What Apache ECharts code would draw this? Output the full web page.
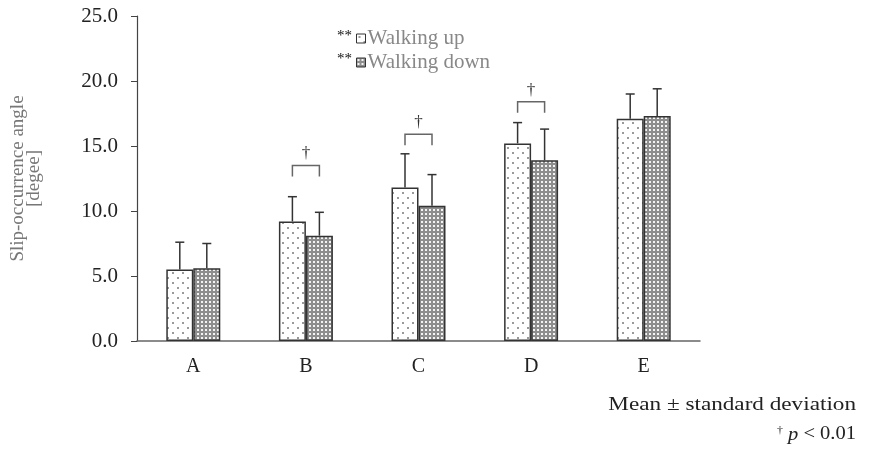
<!DOCTYPE html>
<html><head><meta charset="utf-8">
<script src="https://cdn.jsdelivr.net/npm/echarts@6/dist/echarts.min.js"></script>
<style>html,body{margin:0;padding:0;background:#fff}#c{width:873px;height:449px}</style>
</head><body><div id="c"></div>
<script>
const categories = ['A','B','C','D','E'];
const upMean = [5.5, 9.2, 11.8, 15.2, 17.1];
const upSD = [2.1, 1.9, 2.6, 1.6, 1.9];
const downMean = [5.6, 8.1, 10.4, 13.9, 17.3];
const downSD = [1.9, 1.8, 2.4, 2.4, 2.1];
const sigCats = [1, 2, 3];
const sigLevels = [13.5, 15.9, 18.4];
const seriesNames = ['Walking up', 'Walking down'];

const FONT = '"Liberation Serif","Times New Roman",serif';

function makeUpPattern(){
  const c = document.createElement('canvas'); c.width = 10; c.height = 10;
  const g = c.getContext('2d');
  g.fillStyle = '#fff'; g.fillRect(0,0,10,10);
  g.fillStyle = '#9a9a9a';
  g.fillRect(2,2,2,2); g.fillRect(7,7,2,2);
  return c;
}
function makeDownPattern(){
  const c = document.createElement('canvas'); c.width = 4; c.height = 4;
  const g = c.getContext('2d');
  g.fillStyle = '#8e8e8e'; g.fillRect(0,0,4,4);
  g.fillStyle = '#f4f4f4';
  g.fillRect(1,1,2,2);
  return c;
}
const upPat = {image: makeUpPattern(), repeat: 'repeat'};
const downPat = {image: makeDownPattern(), repeat: 'repeat'};

const BAR_W = 27;

function errRender(offsetSign){
  return function(params, api){
    const idx = api.value(0), m = api.value(1), sd = api.value(2);
    const p0 = api.coord([idx, m]);
    const p1 = api.coord([idx, m + sd]);
    const x = p0[0] + offsetSign * BAR_W / 2;
    return {type: 'group', children: [
      {type: 'line', shape: {x1: x, y1: p0[1], x2: x, y2: p1[1]}, style: {stroke: '#333', lineWidth: 1.5}},
      {type: 'line', shape: {x1: x - 4.5, y1: p1[1], x2: x + 4.5, y2: p1[1]}, style: {stroke: '#333', lineWidth: 1.5}}
    ]};
  };
}

const chart = echarts.init(document.getElementById('c'), null, {renderer: 'canvas'});
chart.setOption({
  animation: false,
  backgroundColor: '#fff',
  grid: {left: 137, right: 173, top: 16, bottom: 108, containLabel: false, outerBoundsMode: 'none'},
  legend: {
    orient: 'vertical', left: 356, top: 28, padding: 0,
    itemWidth: 9, itemHeight: 9, itemGap: 3,
    data: seriesNames,
    itemStyle: {borderColor: '#333', borderWidth: 1},
    textStyle: {fontFamily: FONT, fontSize: 21, lineHeight: 20, color: '#888', padding: [0,0,0,-3]},
    icon: 'rect'
  },
  xAxis: {
    type: 'category', data: categories,
    axisLine: {lineStyle: {color: '#666', width: 1.5}},
    axisTick: {show: false},
    axisLabel: {fontFamily: FONT, fontSize: 20, color: '#222', margin: 16}
  },
  yAxis: {
    type: 'value', min: 0, max: 25, interval: 5,
    name: 'Slip-occurrence angle\n[degee]',
    nameLocation: 'middle', nameGap: 95, nameRotate: 90,
    nameTextStyle: {fontFamily: FONT, fontSize: 19, color: '#777', lineHeight: 16},
    axisLine: {show: true, lineStyle: {color: '#444', width: 1.2}},
    axisTick: {show: true, length: 6, lineStyle: {color: '#444'}},
    splitLine: {show: false},
    axisLabel: {fontFamily: FONT, fontSize: 21, color: '#222', margin: 19, formatter: v => v.toFixed(1)}
  },
  graphic: [
    {type: 'text', left: 337, top: 29, style: {text: '**', fontFamily: FONT, fontSize: 15, fill: '#111'}},
    {type: 'text', left: 337, top: 52, style: {text: '**', fontFamily: FONT, fontSize: 15, fill: '#111'}},
    {type: 'text', x: 856, y: 415, scaleX: 1.22, style: {text: 'Mean ± standard deviation', textAlign: 'right', textVerticalAlign: 'bottom', fontFamily: FONT, fontSize: 19, fill: '#222'}},
    {type: 'text', x: 856, y: 444, scaleX: 1.08, style: {
      text: '{s|†} {i|p} < 0.01',
      textAlign: 'right', textVerticalAlign: 'bottom',
      rich: {
        s: {fontFamily: FONT, fontSize: 11, fill: '#222', verticalAlign: 'top', padding: [0,0,6,0]},
        i: {fontFamily: FONT, fontSize: 19, fontStyle: 'italic', fill: '#222'}
      },
      fontFamily: FONT, fontSize: 19, fill: '#222'}}
  ],
  series: [
    {name: seriesNames[0], type: 'bar', data: upMean, barWidth: BAR_W, barGap: '0%',
     itemStyle: {color: upPat, borderColor: '#333', borderWidth: 1.5}},
    {name: seriesNames[1], type: 'bar', data: downMean, barWidth: BAR_W,
     itemStyle: {color: downPat, borderColor: '#333', borderWidth: 1.5}},
    {type: 'custom', name: 'errUp', silent: true, z: 5,
     data: upMean.map((m, i) => [i, m, upSD[i]]), renderItem: errRender(-1)},
    {type: 'custom', name: 'errDown', silent: true, z: 5,
     data: downMean.map((m, i) => [i, m, downSD[i]]), renderItem: errRender(1)},
    {type: 'custom', name: 'sig', silent: true, z: 5,
     data: sigCats.map((c, i) => [c, sigLevels[i]]),
     renderItem: function(params, api){
       const p = api.coord([api.value(0), api.value(1)]);
       const xl = p[0] - BAR_W / 2, xr = p[0] + BAR_W / 2, y = p[1];
       return {type: 'group', children: [
         {type: 'polyline', shape: {points: [[xl, y + 11], [xl, y], [xr, y], [xr, y + 11]]}, style: {stroke: '#666', lineWidth: 1.5, fill: null}},
         {type: 'text', style: {text: '†', x: p[0], y: y - 3, textAlign: 'center', textVerticalAlign: 'bottom', fontFamily: FONT, fontSize: 17, fill: '#333'}}
       ]};
     }}
  ]
});
</script></body></html>
